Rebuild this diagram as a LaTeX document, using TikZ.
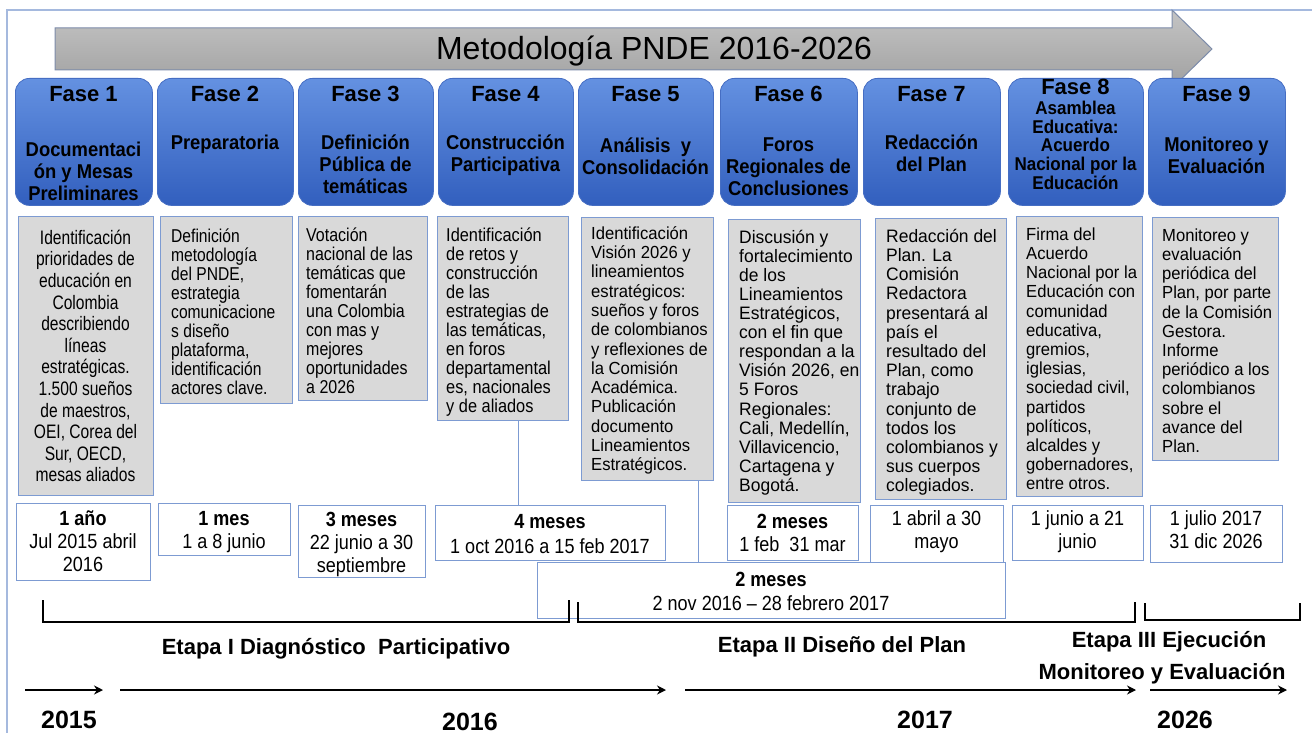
\documentclass[tikz,border=0pt]{standalone}
\usepackage{fontspec}
\setmainfont{Liberation Sans}
\newfontfamily\stA[FakeStretch=0.80]{Liberation Sans}
\newfontfamily\stB[FakeStretch=0.84]{Liberation Sans}
\newfontfamily\stC[FakeStretch=0.86]{Liberation Sans}
\newfontfamily\stD[FakeStretch=0.88]{Liberation Sans}
\newfontfamily\stE[FakeStretch=0.92]{Liberation Sans}
\newfontfamily\stF[FakeStretch=0.95]{Liberation Sans}
\newfontfamily\stG[FakeStretch=0.97]{Liberation Sans}
\usetikzlibrary{arrows.meta,calc}
\definecolor{fasetop}{RGB}{100,145,225}
\definecolor{fasebot}{RGB}{50,95,190}
\definecolor{faseline}{RGB}{70,110,195}
\definecolor{descfill}{RGB}{217,217,217}
\definecolor{descline}{RGB}{125,155,210}
\definecolor{frameline}{RGB}{165,185,222}
\definecolor{arrowtop}{RGB}{196,196,196}
\definecolor{arrowbot}{RGB}{160,160,160}
\definecolor{arrowline}{RGB}{125,140,170}
\begin{document}
\lineskiplimit=-50pt
\begin{tikzpicture}[x=1pt,y=-1pt,
  fasebox/.style={rounded corners=14pt, top color=fasetop, bottom color=fasebot, draw=faseline, line width=0.8pt, anchor=north west, inner sep=0pt},
  fasetitle/.style={font=\bfseries\fontsize{22}{26}\selectfont, anchor=base, inner sep=0pt},
  fasesub/.style={font=\stE\bfseries\fontsize{20}{22}\selectfont, align=center, anchor=north, inner sep=0pt},
  descbox/.style={fill=descfill, draw=descline, line width=1.3pt, anchor=north west, inner sep=0pt},
  desctext/.style={align=left, anchor=north west, inner sep=0pt},
  durbox/.style={fill=white, draw=descline, line width=1.3pt, anchor=north west, inner sep=0pt},
  durtext/.style={font=\stD\fontsize{20.5}{23}\selectfont, align=center, anchor=north, inner sep=0pt},
  etapa/.style={font=\bfseries\fontsize{22}{32}\selectfont, anchor=base, inner sep=0pt},
  year/.style={font=\bfseries\fontsize{25}{30}\selectfont, anchor=base, inner sep=0pt},
  bracket/.style={line width=2pt, black},
  timeline/.style={line width=2.4pt, black, -{Stealth[length=9pt,width=9pt]}},
  link/.style={draw=descline, line width=1pt}
]
\useasboundingbox (0,0) rectangle (1312,733);
\fill[white] (0,0) rectangle (1312,733);
% frame
\draw[frameline, line width=1.2pt] (7,733) -- (7,10) -- (1312,10);

% title arrow
\shade[top color=arrowtop, bottom color=arrowbot, draw=arrowline, line width=1pt]
  (55,28) -- (1172,28) -- (1172,10) -- (1212,49) -- (1172,88) -- (1172,70) -- (55,70) -- cycle;
\node[font=\fontsize{32}{36}\selectfont, anchor=base, inner sep=0pt] (title) at (654,60) {Metodología PNDE 2016-2026};

% phase boxes
\node[fasebox, minimum width=137, minimum height=127] (f1) at (15,78) {};
\node[fasebox, minimum width=136, minimum height=127] (f2) at (157,78) {};
\node[fasebox, minimum width=135, minimum height=127] (f3) at (298,78) {};
\node[fasebox, minimum width=135, minimum height=127] (f4) at (438,78) {};
\node[fasebox, minimum width=135, minimum height=127] (f5) at (578,78) {};
\node[fasebox, minimum width=137, minimum height=127] (f6) at (720,78) {};
\node[fasebox, minimum width=137, minimum height=127] (f7) at (863,78) {};
\node[fasebox, minimum width=135, minimum height=127] (f8) at (1008,78) {};
\node[fasebox, minimum width=137, minimum height=127] (f9) at (1148,78) {};

\node[fasetitle] (f1t) at (83.5,102) {Fase 1};
\node[fasetitle] (f2t) at (225,102) {Fase 2};
\node[fasetitle] (f3t) at (365.5,102) {Fase 3};
\node[fasetitle] (f4t) at (505.5,102) {Fase 4};
\node[fasetitle] (f5t) at (645.5,102) {Fase 5};
\node[fasetitle] (f6t) at (788.5,102) {Fase 6};
\node[fasetitle] (f7t) at (931.5,102) {Fase 7};
\node[fasetitle] (f8t) at (1075.5,95) {Fase 8};
\node[fasetitle] (f9t) at (1216.5,102) {Fase 9};

\node[fasesub] (f1s) at (83.5,140.6) {\strut Documentaci\\ón y Mesas\\Preliminares};
\node[fasesub] (f2s) at (225,133.6) {\strut Preparatoria};
\node[fasesub] (f3s) at (365.5,133.6) {\strut Definición\\Pública de\\temáticas};
\node[fasesub] (f4s) at (505.5,133.6) {\strut Construcción\\Participativa};
\node[fasesub] (f5s) at (645.5,136.6) {\strut Análisis\ \ y\\Consolidación};
\node[fasesub] (f6s) at (788.5,135.6) {\strut Foros\\Regionales de\\Conclusiones};
\node[fasesub] (f7s) at (931.5,133.6) {\strut Redacción\\del Plan};
\node[fasesub, font=\stE\bfseries\fontsize{18.5}{18.7}\selectfont] (f8s) at (1075.5,100.9) {\strut Asamblea\\Educativa:\\Acuerdo\\Nacional por la\\Educación};
\node[fasesub] (f9s) at (1216.5,135.6) {\strut Monitoreo y\\Evaluación};

% description boxes
\node[descbox, minimum width=135, minimum height=279] (d1) at (18,216) {};
\node[descbox, minimum width=132, minimum height=187] (d2) at (160,216) {};
\node[descbox, minimum width=129, minimum height=184] (d3) at (298,216) {};
\node[descbox, minimum width=131, minimum height=204] (d4) at (437,216) {};
\node[descbox, minimum width=132, minimum height=263] (d5) at (581,217) {};
\node[descbox, minimum width=132, minimum height=283] (d6) at (728,219) {};
\node[descbox, minimum width=131, minimum height=281] (d7) at (875,218) {};
\node[descbox, minimum width=126, minimum height=280] (d8) at (1016,216) {};
\node[descbox, minimum width=126, minimum height=243] (d9) at (1152,217) {};

\node[desctext, font=\stA\fontsize{19.5}{21.6}\selectfont, align=center, anchor=north] (d1t) at (85.5,228.9) {\strut Identificación\\prioridades de\\educación en\\Colombia\\describiendo\\líneas\\estratégicas.\\1.500 sueños\\de maestros,\\OEI, Corea del\\Sur, OECD,\\mesas aliados};
\node[desctext, font=\stB\fontsize{18.6}{19}\selectfont] (d2t) at (171,228.7) {\strut Definición\\metodología\\del PNDE,\\estrategia\\comunicacione\\s diseño\\plataforma,\\identificación\\actores clave.};
\node[desctext, font=\stC\fontsize{18.6}{19}\selectfont] (d3t) at (306,227.7) {\strut Votación\\nacional de las\\temáticas que\\fomentarán\\una Colombia\\con mas y\\mejores\\oportunidades\\a 2026};
\node[desctext, font=\stD\fontsize{18.6}{19}\selectfont] (d4t) at (446,227.7) {\strut Identificación\\de retos y\\construcción\\de las\\estrategias de\\las temáticas,\\en foros\\departamental\\es, nacionales\\y de aliados};
\node[desctext, font=\stF\fontsize{17.5}{19.3}\selectfont] (d5t) at (591,225.5) {\strut Identificación\\Visión 2026 y\\lineamientos\\estratégicos:\\sueños y foros\\de colombianos\\y reflexiones de\\la Comisión\\Académica.\\Publicación\\documento\\Lineamientos\\Estratégicos.};
\node[desctext, font=\stG\fontsize{18}{19.1}\selectfont] (d6t) at (739,229.6) {\strut Discusión y\\fortalecimiento\\de los\\Lineamientos\\Estratégicos,\\con el fin que\\respondan a la\\Visión 2026, en\\5 Foros\\Regionales:\\Cali, Medellín,\\Villavicencio,\\Cartagena y\\Bogotá.};
\node[desctext, font=\stG\fontsize{18}{19.2}\selectfont] (d7t) at (886,228.6) {\strut Redacción del\\Plan. La\\Comisión\\Redactora\\presentará al\\país el\\resultado del\\Plan, como\\trabajo\\conjunto de\\todos los\\colombianos y\\sus cuerpos\\colegiados.};
\node[desctext, font=\stF\fontsize{17.5}{19.2}\selectfont] (d8t) at (1026,226.6) {\strut Firma del\\Acuerdo\\Nacional por la\\Educación con\\comunidad\\educativa,\\gremios,\\iglesias,\\sociedad civil,\\partidos\\políticos,\\alcaldes y\\gobernadores,\\entre otros.};
\node[desctext, font=\stF\fontsize{17.5}{19.2}\selectfont] (d9t) at (1162,227.6) {\strut Monitoreo y\\evaluación\\periódica del\\Plan, por parte\\de la Comisión\\Gestora.\\Informe\\periódico a los\\colombianos\\sobre el\\avance del\\Plan.};

% duration boxes
\node[durbox, minimum width=134, minimum height=77] (t1) at (16,503) {};
\node[durbox, minimum width=132, minimum height=52] (t2) at (158,503) {};
\node[durbox, minimum width=127, minimum height=72] (t3) at (298,505) {};
\node[durbox, minimum width=230, minimum height=55] (t4) at (435,505) {};
\node[durbox, minimum width=468, minimum height=56] (t5) at (537,562) {};
\node[durbox, minimum width=131, minimum height=55] (t6) at (727,505) {};
\node[durbox, minimum width=133, minimum height=57] (t7) at (870,505) {};
\node[durbox, minimum width=131, minimum height=55] (t8) at (1012,505) {};
\node[durbox, minimum width=132, minimum height=57] (t9) at (1150,505) {};

\node[durtext] (t1t) at (83,509.2) {\strut\textbf{1 año}\\Jul 2015 abril\\2016};
\node[durtext] (t2t) at (224,509.2) {\strut\textbf{1 mes}\\1 a 8 junio};
\node[durtext] (t3t) at (361.5,510.2) {\strut\textbf{3 meses}\\22 junio a 30\\septiembre};
\node[durtext, font=\stD\fontsize{20.5}{25}\selectfont] (t4t) at (550,510.8) {\strut\textbf{4 meses}\\1 oct 2016 a 15 feb 2017};
\node[durtext, font=\stD\fontsize{20.5}{24}\selectfont] (t5t) at (771,569.5) {\strut\textbf{2 meses}\\2 nov 2016 – 28 febrero 2017};
\node[durtext] (t6t) at (792.5,512.2) {\strut\textbf{2 meses}\\1 feb\ \ 31 mar};
\node[durtext] (t7t) at (936.5,509.2) {\strut 1 abril a 30\\mayo};
\node[durtext] (t8t) at (1077.5,509.2) {\strut 1 junio a 21\\junio};
\node[durtext] (t9t) at (1216,509.2) {\strut 1 julio 2017\\31 dic 2026};

% links from descriptions to durations
\draw[link] ([xshift=15pt]d4.south) -- ([xshift=15pt]d4.south |- t4.north);
\draw[link] ([xshift=-16pt]d5.south east) -- ([xshift=-16pt]d5.south east |- t5.north);

% stage brackets
\coordinate (b1a) at (43,600);
\coordinate (b1b) at (569,600);
\coordinate (b2a) at (578,602);
\coordinate (b2b) at (1135,602);
\coordinate (b3a) at (1145,603);
\coordinate (b3b) at (1300,603);
\draw[bracket] (b1a) -- (43,622) -- (569,622) -- (b1b);
\draw[bracket] (b2a) -- (578,622) -- (1135,622) -- (b2b);
\draw[bracket] (b3a) -- (1145,620) -- (1300,620) -- (b3b);

\node[etapa] (e1) at (336,654) {Etapa I Diagnóstico\ \ Participativo};
\node[etapa] (e2) at (842,652) {Etapa II Diseño del Plan};
\node[etapa] (e3a) at (1169,647) {Etapa III Ejecución};
\node[etapa] (e3b) at (1162,679) {Monitoreo y Evaluación};

% timeline
\coordinate (y1a) at (25,690);  \coordinate (y1b) at (103,690);
\coordinate (y2a) at (120,690); \coordinate (y2b) at (666,690);
\coordinate (y3a) at (685,690); \coordinate (y3b) at (1136,690);
\coordinate (y4a) at (1150,690); \coordinate (y4b) at (1287,690);
\draw[timeline] (y1a) -- (y1b);
\draw[timeline] (y2a) -- (y2b);
\draw[timeline] (y3a) -- (y3b);
\draw[timeline] (y4a) -- (y4b);

\node[year] (yr1) at (69,728) {2015};
\node[year] (yr2) at (470,730) {2016};
\node[year] (yr3) at (925,728) {2017};
\node[year] (yr4) at (1185,728) {2026};
\end{tikzpicture}
\end{document}
